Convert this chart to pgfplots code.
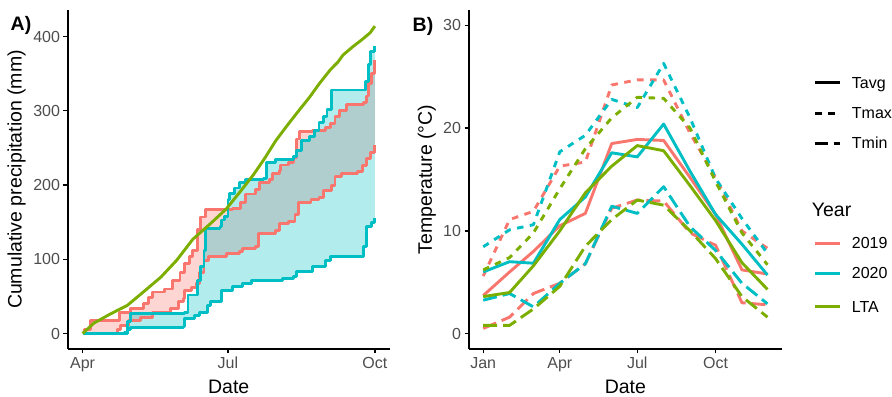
\documentclass[border=0pt]{standalone}
\usepackage{fontspec}
\setmainfont{Liberation Sans}
\usepackage{pgfplots}
\usepackage{pgfplotstable}
\pgfplotsset{compat=1.18}
\usepgfplotslibrary{fillbetween}
\definecolor{c19}{HTML}{F8766D}
\definecolor{c20}{HTML}{00BFC4}
\definecolor{clta}{HTML}{7CAE00}
\definecolor{tickgray}{HTML}{4D4D4D}

% Panel A: cumulative precipitation (day since 1 Apr, mm)
\pgfplotstableread{
d v
0 2
1 6
5 18
23 29
30 34
38 40
41 49
44 56
51 60
56 72
61 82
64 94
67 104
69 112
72 140
74 157
77 167
94 169
99 176
102 188
108 194
111 204
117 207
119 216
123 220
124 227
129 230
132 237
134 262
136 272
144 274
152 277
155 283
158 292
161 301
165 308
176 311
178 320
179 337
181 350
183 368
}\rmax
\pgfplotstableread{
d v
0 0
22 6
24 11
29 18
36 22
44 29
55 34
60 43
63 47
64 58
68 62
71 68
73 82
76 99
79 104
90 108
98 110
100 115
108 117
110 135
121 139
123 148
129 151
133 160
135 176
143 180
148 183
151 193
156 200
158 211
162 216
172 218
175 226
178 236
180 244
183 254
}\rmin
\pgfplotstableread{
d v
0 0
26 2
28 16
30 27
64 29
66 52
72 72
74 90
76 112
77 142
86 144
87 153
89 158
91 180
92 189
95 196
98 203
102 207
113 209
115 230
121 235
132 238
134 246
137 260
142 266
145 274
148 284
151 292
153 302
156 328
174 328
177 340
179 362
180 380
183 387
}\cmax
\pgfplotstableread{
d v
0 0
26 0
28 5
30 8
63 9
64 20
70 24
73 29
78 38
80 43
86 43
87 58
94 63
100 67
106 72
125 74
132 77
134 84
144 90
152 99
155 104
175 104
176 117
178 144
181 150
183 155
}\cmin
\pgfplotstableread{
d v
0 0
7 14
17 26
28 38
38 56
49 76
59 99
69 127
80 148
90 168
99 192
107 214
114 236
121 260
128 280
136 302
142 318
148 336
155 355
160 366
163 375
169 386
175 396
180 405
183 414
}\lta

% Panel B: monthly temperatures (day since 1 Jan)
\pgfplotstableread{
d ravg cavg lavg rmax cmax lmax rmin cmin lmin
0   3.7  6.0  3.6  5.6  8.45 6.2  0.5  3.25 0.8
31  6.0  7.0  4.0  11.1 10.1 7.4  1.6  3.9  0.8
59  8.0  6.85 6.6  11.9 10.6 9.8  3.9  2.6  2.4
90  10.5 11.1 10.0 16.3 17.7 14.1 4.9  4.9  4.6
120 11.7 13.3 13.7 16.7 19.3 18.0 6.8  6.8  8.5
151 18.5 17.6 16.3 24.2 22.8 21.0 12.2 12.4 11.1
181 18.9 17.2 18.3 24.7 22.0 23.0 13.0 11.7 13.0
212 18.8 20.4 17.8 24.7 26.3 22.9 12.9 14.3 12.5
243 15.2 15.8 14.4 19.5 21.0 20.0 9.8  10.4 10.0
273 11.6 11.6 11.0 15.2 15.1 14.8 8.6  8.1  7.3
304 6.2  8.7  6.9  10.0 11.2 9.8  3.0  4.9  3.6
334 5.8  5.7  4.3  8.3  7.8  6.7  2.8  2.9  1.6
}\temps

\tikzset{
  ln/.style={line width=2.9pt, line join=round},
  tmax/.style={ln, dash pattern=on 6.5pt off 6.5pt},
  tmin/.style={ln, dash pattern=on 14pt off 6pt},
}
\pgfplotsset{
  ggstyle/.style={
    scale only axis,
    axis x line*=bottom, axis y line*=left,
    axis line style={black, line width=1.3pt, -},
    tick align=outside,
    major tick length=4.5pt,
    tick style={black, line width=1.3pt},
    tick label style={font=\fontsize{16}{16}\selectfont, text=tickgray},
    label style={font=\fontsize{19.5}{19.5}\selectfont},
    /pgf/number format/assume math mode=true,
    xlabel style={at={(axis description cs:0.5,-0.13)}, anchor=base},
  },
}

\begin{document}
\begin{tikzpicture}
\path (0,0) rectangle (892pt,396pt);

\begin{axis}[ggstyle, at={(68pt,47pt)}, anchor=south west,
  width=321.5pt, height=339pt,
  xmin=-9.15, xmax=192.15, ymin=-20.75, ymax=435.75,
  xtick={0,91,183}, xticklabels={Apr,Jul,Oct},
  ytick={0,100,200,300,400},
  xlabel={Date}, ylabel={Cumulative precipitation (mm)},
  ylabel style={at={(axis description cs:-0.160,0.5)}, anchor=center},
]
\addplot[draw=none, const plot, name path=rmax] table[x=d,y=v] {\rmax};
\addplot[draw=none, const plot, name path=rmin] table[x=d,y=v] {\rmin};
\addplot[draw=none, const plot, name path=cmax] table[x=d,y=v] {\cmax};
\addplot[draw=none, const plot, name path=cmin] table[x=d,y=v] {\cmin};
\addplot[fill=c19, fill opacity=0.3, draw=none] fill between[of=rmax and rmin];
\addplot[fill=c20, fill opacity=0.3, draw=none] fill between[of=cmax and cmin];
\addplot[ln, c19, const plot] table[x=d,y=v] {\rmax};
\addplot[ln, c19, const plot] table[x=d,y=v] {\rmin};
\addplot[ln, c20, const plot] table[x=d,y=v] {\cmax};
\addplot[ln, c20, const plot] table[x=d,y=v] {\cmin};
\addplot[ln, clta] table[x=d,y=v] {\lta};
\end{axis}

\begin{axis}[ggstyle, at={(469pt,47pt)}, anchor=south west,
  width=312.7pt, height=339pt,
  xmin=-16.7, xmax=350.7, ymin=-1.5, ymax=31.5,
  xtick={0,90,181,273}, xticklabels={Jan,Apr,Jul,Oct},
  ytick={0,10,20,30},
  xlabel={Date}, ylabel={Temperature (°C)},
  ylabel style={at={(axis description cs:-0.135,0.5)}, anchor=center},
]
\addplot[ln, c19] table[x=d,y=ravg] {\temps};
\addplot[tmax, c19] table[x=d,y=rmax] {\temps};
\addplot[tmin, c19] table[x=d,y=rmin] {\temps};
\addplot[ln, c20] table[x=d,y=cavg] {\temps};
\addplot[tmax, c20] table[x=d,y=cmax] {\temps};
\addplot[tmin, c20] table[x=d,y=cmin] {\temps};
\addplot[ln, clta] table[x=d,y=lavg] {\temps};
\addplot[tmax, clta] table[x=d,y=lmax] {\temps};
\addplot[tmin, clta] table[x=d,y=lmin] {\temps};
\end{axis}

% panel tags
\node[font=\fontsize{19.5}{19.5}\selectfont\bfseries, anchor=center] at (21pt,371pt) {A)};
\node[font=\fontsize{19.5}{19.5}\selectfont\bfseries, anchor=center] at (423pt,369.5pt) {B)};

% legends
\begin{scope}[font=\fontsize{16}{16}\selectfont]
\draw[ln, black] (815pt,313.3pt) -- (840pt,313.3pt);
\node[anchor=base west, inner sep=0pt] at (851.7pt,307.6pt) {Tavg};
\draw[ln, black, dash pattern=on 6.5pt off 6.5pt] (815pt,282.7pt) -- (840pt,282.7pt);
\node[anchor=base west, inner sep=0pt] at (851.7pt,277pt) {Tmax};
\draw[ln, black, dash pattern=on 13pt off 6pt] (815pt,252.7pt) -- (840pt,252.7pt);
\node[anchor=base west, inner sep=0pt] at (851.7pt,247pt) {Tmin};
\node[anchor=base west, inner sep=0pt, font=\fontsize{19.5}{19.5}\selectfont] at (811.7pt,179pt) {Year};
\draw[ln, c19] (815pt,152.7pt) -- (840pt,152.7pt);
\node[anchor=base west, inner sep=0pt] at (851.7pt,147pt) {2019};
\draw[ln, c20] (815pt,122.7pt) -- (840pt,122.7pt);
\node[anchor=base west, inner sep=0pt] at (851.7pt,117pt) {2020};
\draw[ln, clta] (815pt,89.3pt) -- (840pt,89.3pt);
\node[anchor=base west, inner sep=0pt] at (851.7pt,83.6pt) {LTA};
\end{scope}
\end{tikzpicture}
\end{document}
